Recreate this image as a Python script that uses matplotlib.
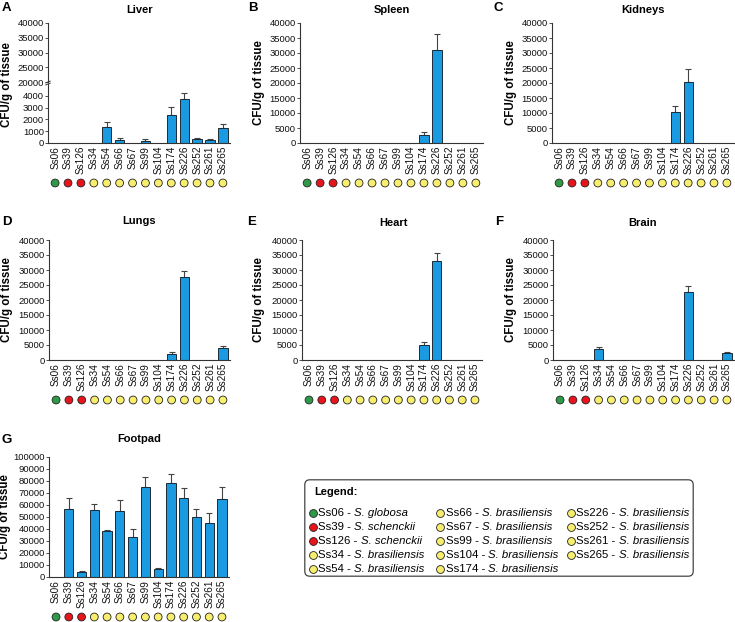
import matplotlib
matplotlib.use("Agg")
import matplotlib.pyplot as plt
import matplotlib.transforms as mtransforms
from matplotlib.patches import FancyBboxPatch
import numpy as np

plt.rcParams['font.family'] = ['Liberation Sans', 'DejaVu Sans']

strains = ["Ss06", "Ss39", "Ss126", "Ss34", "Ss54", "Ss66", "Ss67", "Ss99",
           "Ss104", "Ss174", "Ss226", "Ss252", "Ss261", "Ss265"]
species = ["S. globosa", "S. schenckii", "S. schenckii"] + ["S. brasiliensis"] * 11
species_color = {"S. globosa": "#2e9a48", "S. schenckii": "#e8141b",
                 "S. brasiliensis": "#f6ee6c"}

liver_mean = [0, 0, 0, 0, 1370, 230, 0, 200, 0, 2370, 3710, 310, 260, 1290]
liver_err = [0, 0, 0, 0, 400, 170, 0, 140, 0, 720, 520, 90, 50, 280]
spleen_mean = [0, 0, 0, 0, 0, 0, 0, 0, 0, 2780, 30900, 0, 0, 0]
spleen_err = [0, 0, 0, 0, 0, 0, 0, 0, 0, 780, 5400, 0, 0, 0]
kidneys_mean = [0, 0, 0, 0, 0, 0, 0, 0, 0, 10400, 20200, 0, 0, 0]
kidneys_err = [0, 0, 0, 0, 0, 0, 0, 0, 0, 1800, 4600, 0, 0, 0]
lungs_mean = [0, 0, 0, 0, 0, 0, 0, 0, 0, 2100, 27600, 0, 0, 3900]
lungs_err = [0, 0, 0, 0, 0, 0, 0, 0, 0, 450, 2000, 0, 0, 650]
heart_mean = [0, 0, 0, 0, 0, 0, 0, 0, 0, 4900, 32900, 0, 0, 0]
heart_err = [0, 0, 0, 0, 0, 0, 0, 0, 0, 1000, 2800, 0, 0, 0]
brain_mean = [0, 0, 0, 3550, 0, 0, 0, 0, 0, 0, 22700, 0, 0, 2200]
brain_err = [0, 0, 0, 650, 0, 0, 0, 0, 0, 0, 2100, 0, 0, 350]
footpad_mean = [0, 56900, 4100, 55800, 38100, 54700, 33400, 74600, 6600,
                78200, 65500, 50000, 44800, 65200]
footpad_err = [0, 8800, 900, 5200, 1400, 9400, 6400, 8500, 600,
               7400, 8300, 6900, 8200, 9400]

W, H = 735, 622
fig = plt.figure(figsize=(W / 100, H / 100), dpi=100)

BAR = "#1a9ae0"
EDGE = "#1b2a38"
SPINE = "#333333"
TICK_FS = 6.8
XT_FS = 7.2


def rect(l, t, r, b):
    return [l / W, 1 - b / H, (r - l) / W, (b - t) / H]


x = np.arange(len(strains))


def style(ax, show_x=True):
    for s in ["top", "right"]:
        ax.spines[s].set_visible(False)
    for s in ["left", "bottom"]:
        ax.spines[s].set_color(SPINE)
        ax.spines[s].set_linewidth(0.8)
    ax.tick_params(axis="y", labelsize=TICK_FS, length=2, width=0.6, pad=1, colors=SPINE, labelcolor="#111")
    ax.tick_params(axis="x", labelsize=XT_FS, length=0, pad=2, labelcolor="#111")
    ax.set_xlim(-0.55, len(strains) - 0.45)
    ax.set_xticks(x)
    if show_x:
        ax.set_xticklabels(strains, rotation=90)
    else:
        ax.set_xticklabels([])


def bars(ax, mean, err):
    ax.bar(x, mean, width=0.72, color=BAR, edgecolor=EDGE, linewidth=0.7, zorder=2)
    m = np.array(mean)
    e = np.array(err)
    has = m > 0
    ax.errorbar(x[has], m[has], yerr=[np.zeros(has.sum()), e[has]], fmt="none",
                ecolor="#444", elinewidth=0.8, capsize=2, capthick=0.8, zorder=1)


def dots(ax, ypx):
    tr = mtransforms.blended_transform_factory(ax.transData, fig.transFigure)
    cols = [species_color[s] for s in species]
    ax.scatter(x, [1 - ypx / H] * len(x), s=32, c=cols, edgecolors="#222",
               linewidths=0.6, transform=tr, clip_on=False, zorder=5)


def labels(ax, letter, title, lx, ly, tx, ty, ylab_x, ylab_y):
    fig.text(lx / W, 1 - ly / H, letter, fontsize=9.5, fontweight="bold", ha="left", va="center")
    fig.text(tx / W, 1 - ty / H, title, fontsize=8, fontweight="bold", ha="center", va="center")
    fig.text(ylab_x / W, 1 - ylab_y / H, "CFU/g of tissue", fontsize=8.3, fontweight="bold",
             rotation=90, ha="center", va="center")


# ---- Panel A (broken axis) ----
axA_up = fig.add_axes(rect(48, 23, 230, 82))
axA_lo = fig.add_axes(rect(48, 84, 230, 143))
for a in (axA_up, axA_lo):
    bars(a, liver_mean, liver_err)
style(axA_up, show_x=False)
axA_up.spines["bottom"].set_visible(False)
axA_up.tick_params(axis="x", length=0)
axA_up.set_ylim(20000, 40000)
axA_up.set_yticks([20000, 25000, 30000, 35000, 40000])
style(axA_lo)
axA_lo.set_ylim(0, 5000)
axA_lo.set_yticks([0, 1000, 2000, 3000, 4000])
# break marks
for a, yy in ((axA_up, 0.0), (axA_lo, 1.0)):
    a.plot([-0.012, 0.012], [yy - 0.015, yy + 0.015], transform=a.transAxes,
           color=SPINE, lw=0.7, clip_on=False)
dots(axA_lo, 183)
labels(axA_lo, "A", "Liver", 2, 8, 140, 10, 7, 85)

# ---- Other panels ----
panels = [
    ("B", "Spleen", spleen_mean, spleen_err, (300, 23, 483, 143), 183, 248, 8, 392, 10, 259),
    ("C", "Kidneys", kidneys_mean, kidneys_err, (552, 23, 734, 143), 183, 493, 8, 643, 10, 511),
    ("D", "Lungs", lungs_mean, lungs_err, (49, 240, 230, 360), 400, 2, 222, 139, 221, 7),
    ("E", "Heart", heart_mean, heart_err, (302, 240, 482, 360), 400, 247, 222, 393, 223, 259),
    ("F", "Brain", brain_mean, brain_err, (553, 240, 734, 360), 400, 495, 222, 643, 223, 511),
]
for letter, title, mean, err, r, dy, lx, ly, tx, ty, ylx in panels:
    ax = fig.add_axes(rect(*r))
    bars(ax, mean, err)
    style(ax)
    ax.set_ylim(0, 40000)
    ax.set_yticks(np.arange(0, 40001, 5000))
    dots(ax, dy)
    labels(ax, letter, title, lx, ly, tx, ty, ylx, (r[1] + r[3]) / 2)

# ---- Panel G ----
axG = fig.add_axes(rect(49, 457, 229, 577))
bars(axG, footpad_mean, footpad_err)
style(axG)
axG.set_ylim(0, 100000)
axG.set_yticks(np.arange(0, 100001, 10000))
dots(axG, 617)
labels(axG, "G", "Footpad", 2, 440, 139, 439, 5, 517)

# ---- Legend box ----
axL = fig.add_axes(rect(304, 479, 694, 577))
axL.set_xlim(0, 390)
axL.set_ylim(98, 0)
axL.axis("off")
axL.add_patch(FancyBboxPatch((0.8, 0.8), 388.4, 96.4, boxstyle="round,pad=0,rounding_size=5",
                             facecolor="white", edgecolor="#444", linewidth=0.9))
axL.text(10, 13, "Legend:", fontsize=8, fontweight="bold", va="center", ha="left")
col_x = [9, 136, 267]
row_y = [33.5, 47.5, 61.5, 75.5, 89.5]
order = [0, 1, 2, 3, 4, 5, 6, 7, 8, 9, 10, 11, 12, 13]
for k, idx in enumerate(order):
    c = k // 5
    rr = k % 5
    cx = col_x[c]
    cy = row_y[rr]
    axL.scatter([cx], [cy], s=32, c=[species_color[species[idx]]], edgecolors="#222",
                linewidths=0.6, zorder=3)
    t = axL.text(cx + 5.5, cy, strains[idx] + " - ", fontsize=8.2, va="center", ha="left")
    axL.annotate(species[idx], xy=(1, 0.5), xycoords=t, fontsize=8.2, va="center",
                 ha="left", style="italic")

fig.savefig("out.png", dpi=100)
